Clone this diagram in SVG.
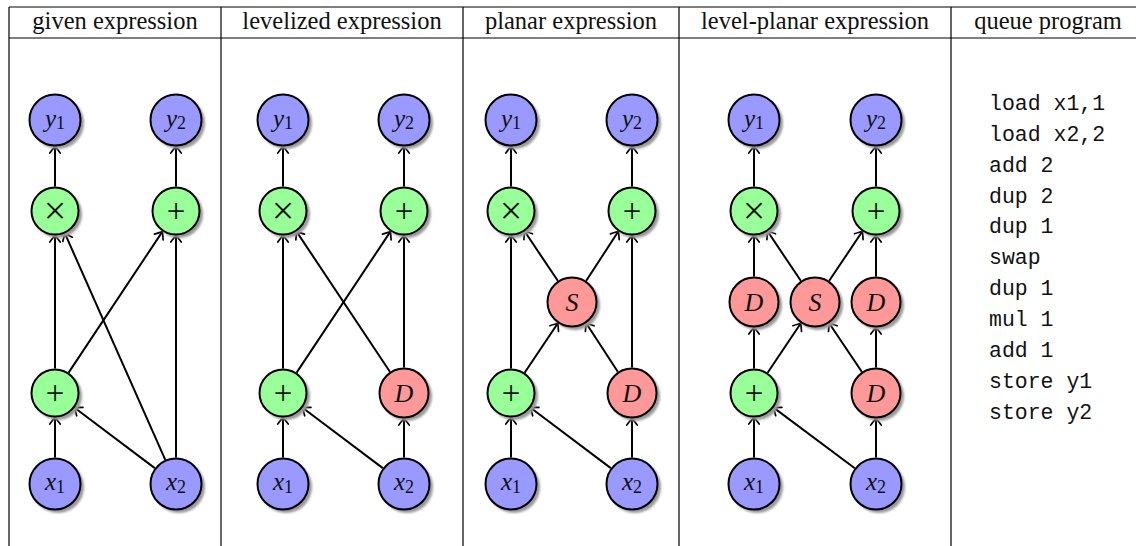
<svg xmlns="http://www.w3.org/2000/svg" width="1136" height="546" viewBox="0 0 1136 546">
  <style>
    .rule { stroke: #000; stroke-width: 1.2; fill: none; }
    .head { font-family: "Liberation Serif", serif; font-size: 24.5px; fill: #111; text-anchor: middle; }
    .code { font-family: "Liberation Mono", monospace; font-size: 21.5px; fill: #111; }
    .node { stroke: #000; stroke-width: 2; }
    .in { fill: #9999ff; }
    .op { fill: #99ff99; }
    .aux { fill: #ff9999; }
    .shadow { fill: #9a9a9a; filter: url(#soft); }
    .lbl { font-family: "Liberation Serif", serif; font-size: 25px; fill: #111; text-anchor: middle; }
    .sym { font-size: 33px; }
    .times { font-size: 40px; }
    .it { font-style: italic; }
    .big { font-size: 26px; }
    .sub { font-size: 18px; font-style: normal; }
    #edges line { stroke: #000; stroke-width: 2; marker-end: url(#tip); }
  </style>
  <defs>
    <filter id="soft" x="-20%" y="-20%" width="140%" height="140%">
      <feGaussianBlur stdDeviation="1.2"/>
    </filter>
    <marker id="tip" viewBox="-10 -8 12 16" markerWidth="12" markerHeight="16" refX="0" refY="0" orient="auto" markerUnits="userSpaceOnUse">
      <path d="M -6.5 -5.2 Q -1.8 -1.6 0 0 Q -1.8 1.6 -6.5 5.2" fill="none" stroke="#000" stroke-width="1.7" stroke-linecap="round"/>
    </marker>
  </defs>

  <rect width="1136" height="546" fill="#fff"/>

  <!-- table frame -->
  <g id="table">
    <line class="rule" x1="9" y1="7" x2="1136" y2="7"/>
    <line class="rule" x1="9" y1="38" x2="1136" y2="38"/>
    <line class="rule" x1="9" y1="7" x2="9" y2="546"/>
    <line class="rule" x1="221" y1="7" x2="221" y2="546"/>
    <line class="rule" x1="463" y1="7" x2="463" y2="546"/>
    <line class="rule" x1="679" y1="7" x2="679" y2="546"/>
    <line class="rule" x1="951" y1="7" x2="951" y2="546"/>
    <text class="head" x="115" y="29">given expression</text>
    <text class="head" x="342" y="29">levelized expression</text>
    <text class="head" x="571" y="29">planar expression</text>
    <text class="head" x="815" y="29">level-planar expression</text>
    <text class="head" x="1048" y="29">queue program</text>
  </g>

  <!-- connectors -->
  <g id="edges">
    <!-- given expression -->
    <line x1="55" y1="457.5" x2="55" y2="417.5"/>
    <line x1="154.8" y1="468.1" x2="74.6" y2="407.7"/>
    <line x1="165.3" y1="459.8" x2="64.9" y2="233.4"/>
    <line x1="176" y1="457.5" x2="176" y2="235.5"/>
    <line x1="55" y1="368.5" x2="55" y2="235.5"/>
    <line x1="68.6" y1="372.6" x2="162.4" y2="231.6"/>
    <line x1="55" y1="186.5" x2="55" y2="146.5"/>
    <line x1="176" y1="186.5" x2="176" y2="146.5"/>
    <!-- levelized expression -->
    <line x1="283" y1="457.5" x2="283" y2="417.5"/>
    <line x1="382.8" y1="468.1" x2="302.6" y2="407.7"/>
    <line x1="404" y1="457.5" x2="404" y2="418.5"/>
    <line x1="283" y1="368.5" x2="283" y2="235.5"/>
    <line x1="296.6" y1="372.6" x2="390.4" y2="231.6"/>
    <line x1="389.9" y1="371.8" x2="296.6" y2="231.6"/>
    <line x1="404" y1="367.5" x2="404" y2="235.5"/>
    <line x1="283" y1="186.5" x2="283" y2="146.5"/>
    <line x1="404" y1="186.5" x2="404" y2="146.5"/>
    <!-- planar expression -->
    <line x1="511" y1="457.5" x2="511" y2="417.5"/>
    <line x1="610.8" y1="468.1" x2="530.6" y2="407.7"/>
    <line x1="632" y1="457.5" x2="632" y2="418.5"/>
    <line x1="511" y1="368.5" x2="511" y2="235.5"/>
    <line x1="524.6" y1="372.7" x2="557.8" y2="323.2"/>
    <line x1="617.8" y1="371.8" x2="586.2" y2="323.2"/>
    <line x1="557.8" y1="280.8" x2="524.6" y2="231.3"/>
    <line x1="586.2" y1="280.8" x2="618.4" y2="231.3"/>
    <line x1="632" y1="367.5" x2="632" y2="235.5"/>
    <line x1="511" y1="186.5" x2="511" y2="146.5"/>
    <line x1="632" y1="186.5" x2="632" y2="146.5"/>
    <!-- level-planar expression -->
    <line x1="754" y1="457.5" x2="754" y2="417.5"/>
    <line x1="854.8" y1="468.2" x2="773.6" y2="407.6"/>
    <line x1="876" y1="457.5" x2="876" y2="418.5"/>
    <line x1="754" y1="368.5" x2="754" y2="327.5"/>
    <line x1="767.6" y1="372.7" x2="800.8" y2="323.2"/>
    <line x1="861.8" y1="371.8" x2="829.2" y2="323.2"/>
    <line x1="876" y1="367.5" x2="876" y2="327.5"/>
    <line x1="754" y1="276.5" x2="754" y2="235.5"/>
    <line x1="800.8" y1="280.8" x2="767.6" y2="231.3"/>
    <line x1="829.2" y1="280.8" x2="862.4" y2="231.3"/>
    <line x1="876" y1="276.5" x2="876" y2="235.5"/>
    <line x1="754" y1="186.5" x2="754" y2="146.5"/>
    <line x1="876" y1="186.5" x2="876" y2="146.5"/>
  </g>

  <!-- given expression -->
  <g id="g-y1" transform="translate(55,120)"><circle class="shadow" cx="3" cy="3" r="26"/><circle class="node in" r="25.5"/><text class="lbl" y="7"><tspan class="it">y</tspan><tspan class="sub" dy="2">1</tspan></text></g>
  <g id="g-y2" transform="translate(176,120)"><circle class="shadow" cx="3" cy="3" r="26"/><circle class="node in" r="25.5"/><text class="lbl" y="7"><tspan class="it">y</tspan><tspan class="sub" dy="2">2</tspan></text></g>
  <g id="g-mul" transform="translate(55,211)"><circle class="shadow" cx="3" cy="3" r="24"/><circle class="node op" r="23.5"/><text class="lbl times" y="13">×</text></g>
  <g id="g-add2" transform="translate(176,211)"><circle class="shadow" cx="3" cy="3" r="24"/><circle class="node op" r="23.5"/><text class="lbl sym" y="11">+</text></g>
  <g id="g-add1" transform="translate(55,393)"><circle class="shadow" cx="3" cy="3" r="24"/><circle class="node op" r="23.5"/><text class="lbl sym" y="11">+</text></g>
  <g id="g-x1" transform="translate(55,484)"><circle class="shadow" cx="3" cy="3" r="26"/><circle class="node in" r="25.5"/><text class="lbl" y="6"><tspan class="it">x</tspan><tspan class="sub" dy="3">1</tspan></text></g>
  <g id="g-x2" transform="translate(176,484)"><circle class="shadow" cx="3" cy="3" r="26"/><circle class="node in" r="25.5"/><text class="lbl" y="6"><tspan class="it">x</tspan><tspan class="sub" dy="3">2</tspan></text></g>

  <!-- levelized expression -->
  <g id="l-y1" transform="translate(283,120)"><circle class="shadow" cx="3" cy="3" r="26"/><circle class="node in" r="25.5"/><text class="lbl" y="7"><tspan class="it">y</tspan><tspan class="sub" dy="2">1</tspan></text></g>
  <g id="l-y2" transform="translate(404,120)"><circle class="shadow" cx="3" cy="3" r="26"/><circle class="node in" r="25.5"/><text class="lbl" y="7"><tspan class="it">y</tspan><tspan class="sub" dy="2">2</tspan></text></g>
  <g id="l-mul" transform="translate(283,211)"><circle class="shadow" cx="3" cy="3" r="24"/><circle class="node op" r="23.5"/><text class="lbl times" y="13">×</text></g>
  <g id="l-add2" transform="translate(404,211)"><circle class="shadow" cx="3" cy="3" r="24"/><circle class="node op" r="23.5"/><text class="lbl sym" y="11">+</text></g>
  <g id="l-add1" transform="translate(283,393)"><circle class="shadow" cx="3" cy="3" r="24"/><circle class="node op" r="23.5"/><text class="lbl sym" y="11">+</text></g>
  <g id="l-d" transform="translate(404,393)"><circle class="shadow" cx="3" cy="3" r="25"/><circle class="node aux" r="24.5"/><text class="lbl it big" y="9">D</text></g>
  <g id="l-x1" transform="translate(283,484)"><circle class="shadow" cx="3" cy="3" r="26"/><circle class="node in" r="25.5"/><text class="lbl" y="6"><tspan class="it">x</tspan><tspan class="sub" dy="3">1</tspan></text></g>
  <g id="l-x2" transform="translate(404,484)"><circle class="shadow" cx="3" cy="3" r="26"/><circle class="node in" r="25.5"/><text class="lbl" y="6"><tspan class="it">x</tspan><tspan class="sub" dy="3">2</tspan></text></g>

  <!-- planar expression -->
  <g id="p-y1" transform="translate(511,120)"><circle class="shadow" cx="3" cy="3" r="26"/><circle class="node in" r="25.5"/><text class="lbl" y="7"><tspan class="it">y</tspan><tspan class="sub" dy="2">1</tspan></text></g>
  <g id="p-y2" transform="translate(632,120)"><circle class="shadow" cx="3" cy="3" r="26"/><circle class="node in" r="25.5"/><text class="lbl" y="7"><tspan class="it">y</tspan><tspan class="sub" dy="2">2</tspan></text></g>
  <g id="p-mul" transform="translate(511,211)"><circle class="shadow" cx="3" cy="3" r="24"/><circle class="node op" r="23.5"/><text class="lbl times" y="13">×</text></g>
  <g id="p-add2" transform="translate(632,211)"><circle class="shadow" cx="3" cy="3" r="24"/><circle class="node op" r="23.5"/><text class="lbl sym" y="11">+</text></g>
  <g id="p-s" transform="translate(572,302)"><circle class="shadow" cx="3" cy="3" r="25"/><circle class="node aux" r="24.5"/><text class="lbl it big" y="9">S</text></g>
  <g id="p-add1" transform="translate(511,393)"><circle class="shadow" cx="3" cy="3" r="24"/><circle class="node op" r="23.5"/><text class="lbl sym" y="11">+</text></g>
  <g id="p-d" transform="translate(632,393)"><circle class="shadow" cx="3" cy="3" r="25"/><circle class="node aux" r="24.5"/><text class="lbl it big" y="9">D</text></g>
  <g id="p-x1" transform="translate(511,484)"><circle class="shadow" cx="3" cy="3" r="26"/><circle class="node in" r="25.5"/><text class="lbl" y="6"><tspan class="it">x</tspan><tspan class="sub" dy="3">1</tspan></text></g>
  <g id="p-x2" transform="translate(632,484)"><circle class="shadow" cx="3" cy="3" r="26"/><circle class="node in" r="25.5"/><text class="lbl" y="6"><tspan class="it">x</tspan><tspan class="sub" dy="3">2</tspan></text></g>

  <!-- level-planar expression -->
  <g id="q-y1" transform="translate(754,120)"><circle class="shadow" cx="3" cy="3" r="26"/><circle class="node in" r="25.5"/><text class="lbl" y="7"><tspan class="it">y</tspan><tspan class="sub" dy="2">1</tspan></text></g>
  <g id="q-y2" transform="translate(876,120)"><circle class="shadow" cx="3" cy="3" r="26"/><circle class="node in" r="25.5"/><text class="lbl" y="7"><tspan class="it">y</tspan><tspan class="sub" dy="2">2</tspan></text></g>
  <g id="q-mul" transform="translate(754,211)"><circle class="shadow" cx="3" cy="3" r="24"/><circle class="node op" r="23.5"/><text class="lbl times" y="13">×</text></g>
  <g id="q-add2" transform="translate(876,211)"><circle class="shadow" cx="3" cy="3" r="24"/><circle class="node op" r="23.5"/><text class="lbl sym" y="11">+</text></g>
  <g id="q-d1" transform="translate(754,302)"><circle class="shadow" cx="3" cy="3" r="25"/><circle class="node aux" r="24.5"/><text class="lbl it big" y="9">D</text></g>
  <g id="q-s" transform="translate(815,302)"><circle class="shadow" cx="3" cy="3" r="25"/><circle class="node aux" r="24.5"/><text class="lbl it big" y="9">S</text></g>
  <g id="q-d2" transform="translate(876,302)"><circle class="shadow" cx="3" cy="3" r="25"/><circle class="node aux" r="24.5"/><text class="lbl it big" y="9">D</text></g>
  <g id="q-add1" transform="translate(754,393)"><circle class="shadow" cx="3" cy="3" r="24"/><circle class="node op" r="23.5"/><text class="lbl sym" y="11">+</text></g>
  <g id="q-d3" transform="translate(876,393)"><circle class="shadow" cx="3" cy="3" r="25"/><circle class="node aux" r="24.5"/><text class="lbl it big" y="9">D</text></g>
  <g id="q-x1" transform="translate(754,484)"><circle class="shadow" cx="3" cy="3" r="26"/><circle class="node in" r="25.5"/><text class="lbl" y="6"><tspan class="it">x</tspan><tspan class="sub" dy="3">1</tspan></text></g>
  <g id="q-x2" transform="translate(876,484)"><circle class="shadow" cx="3" cy="3" r="26"/><circle class="node in" r="25.5"/><text class="lbl" y="6"><tspan class="it">x</tspan><tspan class="sub" dy="3">2</tspan></text></g>

  <!-- queue program listing -->
  <g id="program" class="code">
    <text x="989" y="110">load x1,1</text>
    <text x="989" y="141">load x2,2</text>
    <text x="989" y="172">add 2</text>
    <text x="989" y="203">dup 2</text>
    <text x="989" y="233">dup 1</text>
    <text x="989" y="264">swap</text>
    <text x="989" y="295">dup 1</text>
    <text x="989" y="326">mul 1</text>
    <text x="989" y="357">add 1</text>
    <text x="989" y="388">store y1</text>
    <text x="989" y="419">store y2</text>
  </g>
</svg>
